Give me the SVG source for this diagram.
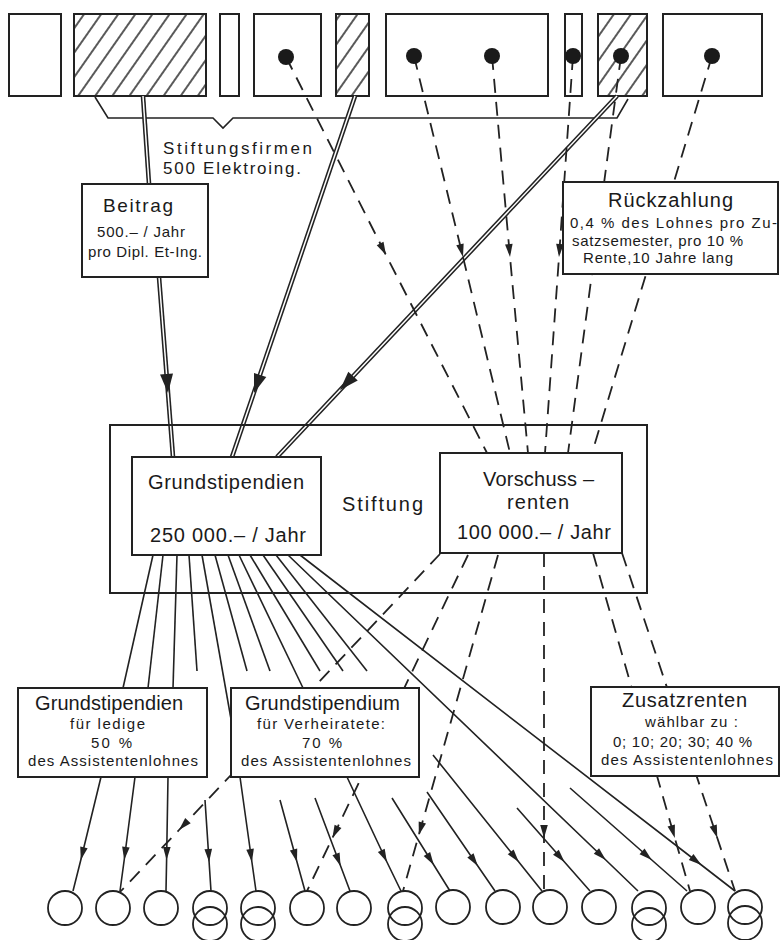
<svg xmlns="http://www.w3.org/2000/svg" width="780" height="940" viewBox="0 0 780 940">
<defs>
<style>
.bx{fill:#fff;stroke:#222;stroke-width:2}
.bo{fill:none;stroke:#222;stroke-width:2}
.sl{fill:none;stroke:#222;stroke-width:1.6}
.dl{fill:none;stroke:#222;stroke-width:1.8;stroke-dasharray:14 9}
.dbo{fill:none;stroke:#222;stroke-width:4.6}
.dbi{fill:none;stroke:#fff;stroke-width:1.5}
.mk{fill:none;stroke:none}
.ci{fill:none;stroke:#222;stroke-width:1.8}
.dot{fill:#1a1a1a}
text{font-family:"Liberation Sans","DejaVu Sans",sans-serif;fill:#1a1a1a}
.t20{font-size:20px}
.t19{font-size:19px}
.t17{font-size:17px}
.t15{font-size:15px}
</style>
<pattern id="hatch" patternUnits="userSpaceOnUse" width="14" height="14" patternTransform="rotate(35)">
<line x1="7" y1="0" x2="7" y2="14" stroke="#222" stroke-width="1.5"/>
</pattern>
<marker id="ah" markerUnits="userSpaceOnUse" orient="auto" overflow="visible" markerWidth="1" markerHeight="1">
<path d="M0,0 L-13,-3.8 L-13,3.8 Z" fill="#222" stroke="none"/>
</marker>
<marker id="ah2" markerUnits="userSpaceOnUse" orient="auto" overflow="visible" markerWidth="1" markerHeight="1">
<path d="M0,0 L-19,-6.5 L-19,6.5 Z" fill="#222" stroke="none"/>
</marker>
</defs>
<rect width="780" height="940" fill="#fff"/>

<g id="firms">
<rect class="bx" x="9" y="14" width="52" height="82"/>
<rect class="bx" x="74" y="14" width="132" height="82"/>
<rect x="74" y="14" width="132" height="82" fill="url(#hatch)" stroke="#222" stroke-width="2"/>
<rect class="bx" x="220" y="14" width="19" height="82"/>
<rect class="bx" x="254" y="14" width="67" height="82"/>
<rect class="bx" x="336" y="14" width="33" height="82"/>
<rect x="336" y="14" width="33" height="82" fill="url(#hatch)" stroke="#222" stroke-width="2"/>
<rect class="bx" x="386" y="14" width="162" height="82"/>
<rect class="bx" x="565" y="14" width="17" height="82"/>
<rect class="bx" x="598" y="14" width="49" height="82"/>
<rect x="598" y="14" width="49" height="82" fill="url(#hatch)" stroke="#222" stroke-width="2"/>
<rect class="bx" x="663" y="14" width="99" height="82"/>
<path class="sl" d="M95,97 L108,118 L213,118 L223,128 L233,118 L617,118 L628,99" stroke-width="1.8"/>
<text class="t17" x="163" y="154" textLength="149">Stiftungsfirmen</text>
<text class="t17" x="163" y="174" textLength="138">500 Elektroing.</text>
</g>

<g id="connectors">
<path class="dbo" d="M143,96 L149,184"/>
<path class="dbi" d="M143,96 L149,184"/>
<path class="dbo" d="M159,277 L173,457"/>
<path class="dbi" d="M159,277 L173,457"/>
<path class="mk" d="M159,277 L168,393 L173,457" marker-mid="url(#ah2)"/>
<path class="dbo" d="M355,96 L232,457"/>
<path class="dbi" d="M355,96 L232,457"/>
<path class="mk" d="M355,96 L254,393 L232,457" marker-mid="url(#ah2)"/>
<path class="dbo" d="M617,96 L277,457"/>
<path class="dbi" d="M617,96 L277,457"/>
<path class="mk" d="M617,96 L340,390 L277,457" marker-mid="url(#ah2)"/>

<path class="dl" d="M286,57 L386,255 L487,453" marker-mid="url(#ah)"/>
<path class="dl" d="M414,56 L463,257 L510,453" marker-mid="url(#ah)"/>
<path class="dl" d="M492,56 L510,257 L528,453" marker-mid="url(#ah)"/>
<path class="dl" d="M573,56 L559,257 L545,453" marker-mid="url(#ah)"/>
<path class="dl" d="M621,56 L568,453"/>
<path class="dl" d="M712,56 L592,453"/>

<path class="sl" d="M153,555 L123,688"/>
<path class="sl" d="M163,555 L148,688"/>
<path class="sl" d="M177,555 L173,688"/>
<path class="sl" d="M189,555 L197,671"/>
<path class="sl" d="M202,555 L231,719"/>
<path class="sl" d="M215,555 L247,671"/>
<path class="sl" d="M228,555 L270,671"/>
<path class="sl" d="M239,555 L303,688"/>
<path class="sl" d="M250,555 L320,671"/>
<path class="sl" d="M263,555 L343,671"/>
<path class="sl" d="M276,555 L367,671"/>
<path class="sl" d="M288,555 L605.8,860 L638,891" marker-mid="url(#ah)"/>
<path class="sl" d="M300,555 L701.4,865 L735,891" marker-mid="url(#ah)"/>

<path class="dl" d="M440,554 L179,830 L120,892" marker-mid="url(#ah)"/>
<path class="dl" d="M468,555 L332.4,838 L307,891" marker-mid="url(#ah)"/>
<path class="dl" d="M498,555 L418.8,835 L403,891" marker-mid="url(#ah)"/>
<path class="dl" d="M544,553 L544,838 L544,891" marker-mid="url(#ah)"/>
<path class="dl" d="M593,553 L674.8,838 L690,891" marker-mid="url(#ah)"/>
<path class="dl" d="M622,553 L717.3,838 L735,891" marker-mid="url(#ah)"/>

<path class="sl" d="M101,777 L80.8,860 L73,891" marker-mid="url(#ah)"/>
<path class="sl" d="M135,777 L124.2,860 L120,891" marker-mid="url(#ah)"/>
<path class="sl" d="M168,777 L166.6,860 L166,891" marker-mid="url(#ah)"/>
<path class="sl" d="M205,800 L209.1,862 L211,891" marker-mid="url(#ah)"/>
<path class="sl" d="M240,777 L251.9,862 L256,891" marker-mid="url(#ah)"/>
<path class="sl" d="M280,800 L297,862 L305,891" marker-mid="url(#ah)"/>
<path class="sl" d="M315,798 L340.6,866 L350,891" marker-mid="url(#ah)"/>
<path class="sl" d="M347,777 L386.9,862 L401,891" marker-mid="url(#ah)"/>
<path class="sl" d="M392,798 L433.8,865 L450,891" marker-mid="url(#ah)"/>
<path class="sl" d="M427,792 L477.8,866 L495,891" marker-mid="url(#ah)"/>
<path class="sl" d="M433,755 L518.8,862 L542,891" marker-mid="url(#ah)"/>
<path class="sl" d="M517,808 L564.5,862 L590,891" marker-mid="url(#ah)"/>
<path class="sl" d="M570,788 L651.8,860 L687,891" marker-mid="url(#ah)"/>
</g>

<g id="dots">
<circle class="dot" cx="286" cy="57" r="8"/>
<circle class="dot" cx="414" cy="56" r="8"/>
<circle class="dot" cx="492" cy="56" r="8"/>
<circle class="dot" cx="573" cy="56" r="8"/>
<circle class="dot" cx="621" cy="56" r="8"/>
<circle class="dot" cx="712" cy="56" r="8"/>
</g>

<g id="beitrag">
<rect class="bx" x="82" y="184" width="126" height="93"/>
<text class="t19" x="103" y="212" textLength="70">Beitrag</text>
<text class="t15" x="97" y="237" textLength="88">500.– / Jahr</text>
<text class="t15" x="88" y="257" textLength="114">pro Dipl. Et-Ing.</text>
</g>

<g id="rueckzahlung">
<rect class="bx" x="563" y="182" width="215" height="92"/>
<text class="t20" x="608" y="207" textLength="125">Rückzahlung</text>
<text class="t15" x="570" y="228" textLength="207">0,4 % des Lohnes pro Zu-</text>
<text class="t15" x="572" y="246" textLength="171">satzsemester, pro 10 %</text>
<text class="t15" x="583" y="263" textLength="150">Rente,10 Jahre lang</text>
</g>

<g id="stiftung">
<rect class="bo" x="110" y="425" width="537" height="168"/>
<text class="t20" x="342" y="511" textLength="81">Stiftung</text>
</g>

<g id="grundstipendien">
<rect class="bx" x="132" y="457" width="189" height="98"/>
<text class="t20" x="148" y="489" textLength="156">Grundstipendien</text>
<text class="t20" x="150" y="542" textLength="156">250 000.– / Jahr</text>
</g>

<g id="vorschussrenten">
<rect class="bx" x="440" y="453" width="182" height="100"/>
<text class="t20" x="483" y="486" textLength="111">Vorschuss –</text>
<text class="t20" x="507" y="509" textLength="62">renten</text>
<text class="t20" x="457" y="539" textLength="154">100 000.– / Jahr</text>
</g>

<g id="ledige">
<rect class="bx" x="18" y="688" width="189" height="89"/>
<text class="t20" x="35" y="710" textLength="148">Grundstipendien</text>
<text class="t15" x="70" y="729" textLength="75">für ledige</text>
<text class="t15" x="91" y="748" textLength="41">50 %</text>
<text class="t15" x="28" y="766" textLength="170">des Assistentenlohnes</text>
</g>

<g id="verheiratete">
<rect class="bx" x="231" y="688" width="188" height="89"/>
<text class="t20" x="245" y="710" textLength="155">Grundstipendium</text>
<text class="t15" x="257" y="729" textLength="128">für Verheiratete:</text>
<text class="t15" x="302" y="748" textLength="40">70 %</text>
<text class="t15" x="241" y="766" textLength="170">des Assistentenlohnes</text>
</g>

<g id="zusatzrenten">
<rect class="bx" x="591" y="687" width="188" height="89"/>
<text class="t20" x="622" y="707" textLength="125">Zusatzrenten</text>
<text class="t15" x="645" y="727" textLength="93">wählbar zu :</text>
<text class="t15" x="613" y="747" textLength="139">0; 10; 20; 30; 40 %</text>
<text class="t15" x="601" y="765" textLength="172">des Assistentenlohnes</text>
</g>

<g id="recipients">
<circle class="ci" cx="65" cy="908" r="17"/>
<circle class="ci" cx="113" cy="908" r="17"/>
<circle class="ci" cx="161" cy="908" r="17"/>
<circle class="ci" cx="210" cy="908" r="17"/><circle class="ci" cx="210" cy="924" r="17"/>
<circle class="ci" cx="258" cy="908" r="17"/><circle class="ci" cx="258" cy="924" r="17"/>
<circle class="ci" cx="307" cy="908" r="17"/>
<circle class="ci" cx="354" cy="908" r="17"/>
<circle class="ci" cx="405" cy="908" r="17"/><circle class="ci" cx="405" cy="924" r="17"/>
<circle class="ci" cx="453" cy="907" r="17"/>
<circle class="ci" cx="503" cy="907" r="17"/>
<circle class="ci" cx="550" cy="907" r="17"/>
<circle class="ci" cx="599" cy="907" r="17"/>
<circle class="ci" cx="649" cy="908" r="17"/><circle class="ci" cx="649" cy="925" r="17"/>
<circle class="ci" cx="698" cy="907" r="17"/>
<circle class="ci" cx="745" cy="907" r="17"/><circle class="ci" cx="745" cy="923" r="17"/>
</g>
</svg>
